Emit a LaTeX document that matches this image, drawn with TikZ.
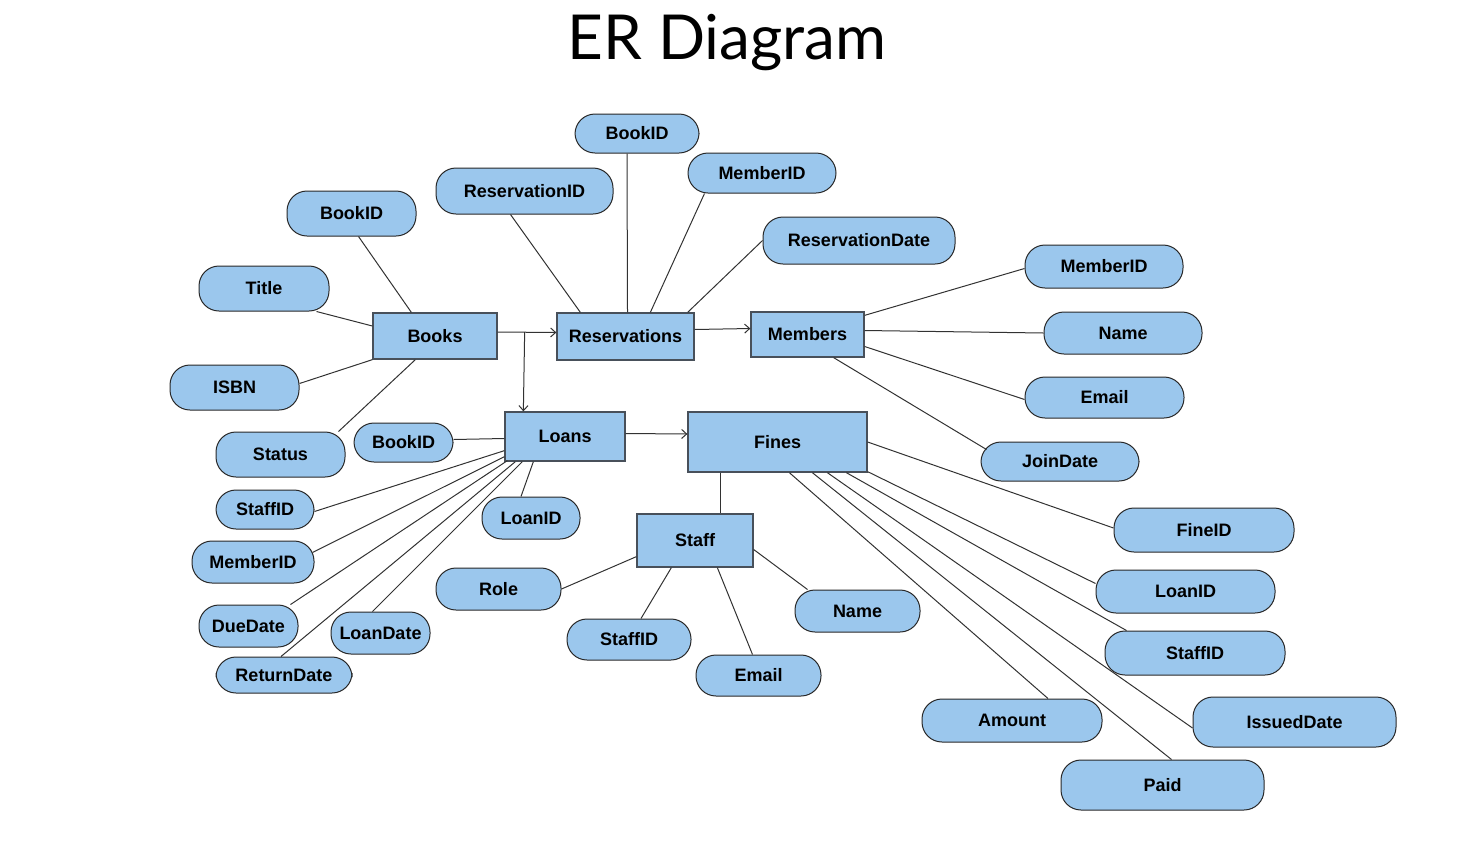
\documentclass[tikz,border=0pt]{standalone}
\usepackage{fontspec}
\setmainfont{Liberation Sans}
\newfontfamily\titlefont{Lato}
\usetikzlibrary{arrows.meta, positioning}

\definecolor{boxfill}{RGB}{155,199,237}
\definecolor{boxline}{RGB}{72,80,90}
\definecolor{pillline}{RGB}{40,40,40}
\definecolor{linkcol}{RGB}{50,50,50}

\tikzset{
  entity/.style={draw=boxline, fill=boxfill, line width=1.3pt, inner sep=0pt,
    font=\fontsize{18}{20}\selectfont\bfseries},
  attrib/.style={draw=pillline, fill=boxfill, line width=1pt, inner sep=0pt,
    rounded corners=20pt, font=\fontsize{18}{20}\selectfont\bfseries},
  link/.style={draw=linkcol, line width=1pt},
  >={Straight Barb[length=5pt,width=9pt]}
}

\begin{document}
\begin{tikzpicture}[x=1pt, y=-1pt]
\useasboundingbox (0,0) rectangle (1479,844);

\node[font=\titlefont\fontsize{62}{68}\selectfont] (title) at (727,43) {ER Diagram};

% entities
\node[entity, minimum width=124pt, minimum height=46pt] (books) at (435,336) {Books};
\node[entity, minimum width=137pt, minimum height=47pt] (resv) at (625.5,336.5) {Reservations};
\node[entity, minimum width=113pt, minimum height=45pt] (members) at (807.5,334.5) {Members};
\node[entity, minimum width=120pt, minimum height=49pt] (loans) at (565,436.5) {Loans};
\node[entity, minimum width=179pt, minimum height=60pt] (fines) at (777.5,442) {Fines};
\node[entity, minimum width=116pt, minimum height=53pt] (staff) at (695,540.5) {Staff};

% books attributes
\node[attrib, minimum width=129pt, minimum height=45pt] (bkbookid) at (351.5,213.5) {BookID};
\node[attrib, minimum width=130pt, minimum height=45pt] (bktitle) at (264,288.5) {Title};
\node[attrib, minimum width=129pt, minimum height=45pt] (bkisbn) at (234.5,387.5) {ISBN};
\node[attrib, minimum width=129pt, minimum height=45pt] (bkstatus) at (280.5,454.5) {Status};

% reservations attributes
\node[attrib, minimum width=177pt, minimum height=46pt] (rsresid) at (524.5,191) {ReservationID};
\node[attrib, minimum width=124pt, minimum height=39pt] (rsbookid) at (637,133.5) {BookID};
\node[attrib, minimum width=148pt, minimum height=40pt] (rsmemid) at (762,173) {MemberID};
\node[attrib, minimum width=192pt, minimum height=47pt] (rsdate) at (859,240.5) {ReservationDate};

% members attributes
\node[attrib, minimum width=158pt, minimum height=43pt] (mbmemid) at (1104,266.5) {MemberID};
\node[attrib, minimum width=158pt, minimum height=42pt] (mbname) at (1123,333) {Name};
\node[attrib, minimum width=159pt, minimum height=41pt] (mbemail) at (1104.5,397.5) {Email};
\node[attrib, minimum width=158pt, minimum height=39pt] (mbjoin) at (1060,461.5) {JoinDate};

% loans attributes
\node[attrib, minimum width=99pt, minimum height=39pt] (lnbookid) at (403.5,442.5) {BookID};
\node[attrib, minimum width=98pt, minimum height=39pt] (lnstaffid) at (265,509.5) {StaffID};
\node[attrib, minimum width=122pt, minimum height=42pt] (lnmemid) at (253,562) {MemberID};
\node[attrib, minimum width=99pt, minimum height=42pt] (lndue) at (248.5,626) {DueDate};
\node[attrib, minimum width=99pt, minimum height=42pt] (lnloandate) at (380.5,633) {LoanDate};
\node[attrib, minimum width=136pt, minimum height=36pt] (lnreturn) at (284,675) {ReturnDate};
\node[attrib, minimum width=98pt, minimum height=42pt] (lnloanid) at (531,518) {LoanID};

% staff attributes
\node[attrib, minimum width=125pt, minimum height=42pt] (sfrole) at (498.5,589) {Role};
\node[attrib, minimum width=124pt, minimum height=41pt] (sfstaffid) at (629,639.5) {StaffID};
\node[attrib, minimum width=125pt, minimum height=41pt] (sfemail) at (758.5,675.5) {Email};
\node[attrib, minimum width=125pt, minimum height=42pt] (sfname) at (857.5,611) {Name};

% fines attributes
\node[attrib, minimum width=180pt, minimum height=44pt] (fnfineid) at (1204,530) {FineID};
\node[attrib, minimum width=179pt, minimum height=43pt] (fnloanid) at (1185.5,591.5) {LoanID};
\node[attrib, minimum width=180pt, minimum height=44pt] (fnstaffid) at (1195,653) {StaffID};
\node[attrib, minimum width=203pt, minimum height=50pt] (fnissued) at (1294.5,722) {IssuedDate};
\node[attrib, minimum width=180pt, minimum height=43pt] (fnamount) at (1012,720.5) {Amount};
\node[attrib, minimum width=203pt, minimum height=50pt] (fnpaid) at (1162.5,785) {Paid};

% relationships
\draw[link, ->] ([yshift=4pt]books.east) -- ([yshift=4pt]resv.west);
\draw[link, ->] ([xshift=27pt,yshift=4pt]books.east) -- ([xshift=19pt]loans.north west);
\draw[link, ->] ([yshift=7pt]resv.east) -- ([yshift=6pt]members.west);
\draw[link, ->] ([yshift=3pt]loans.east) -- ([yshift=8pt]fines.west);
\draw[link] ([xshift=33pt]fines.south west) -- ([xshift=84pt]staff.north west);

% books links
\draw[link] ([xshift=7pt]bkbookid.south) -- ([xshift=39pt]books.north west);
\draw[link] ([xshift=-13pt]bktitle.south east) -- ([yshift=10pt]books.west);
\draw[link] ([yshift=4pt]bkisbn.east) -- (books.south west);
\draw[link] ([xshift=-7pt]bkstatus.north east) -- ([xshift=43pt]books.south west);

% reservations links
\draw[link] ([xshift=-14pt]rsresid.south) -- ([xshift=24pt]resv.north west);
\draw[link] ([xshift=-10pt]rsbookid.south) -- ([xshift=2pt]resv.north);
\draw[link] ([xshift=17pt]rsmemid.south west) -- ([xshift=94pt]resv.north west);
\draw[link] (rsdate.west) -- ([xshift=-7pt]resv.north east);

% members links
\draw[link] ([yshift=-4pt]members.north east) -- ([yshift=-2pt]mbmemid.west);
\draw[link] ([yshift=4pt]members.east) -- (mbname.west);
\draw[link] ([yshift=-12pt]members.east) -- ([yshift=-2pt]mbemail.west);
\draw[link] ([xshift=-31pt]members.south east) -- ([xshift=6pt,yshift=-8pt]mbjoin.north west);

% loans links
\draw[link] ([yshift=-2pt]loans.west) -- ([yshift=3pt]lnbookid.east);
\draw[link] ([yshift=11pt]loans.south west) -- ([yshift=-2pt]lnstaffid.east);
\draw[link] ([yshift=5pt]loans.south west) -- ([xshift=-2pt,yshift=-12pt]lnmemid.north east);
\draw[link] ([xshift=3pt,yshift=1pt]loans.south west) -- ([xshift=-8pt]lndue.north east);
\draw[link] ([xshift=11pt]loans.south west) -- ([xshift=-3pt]lnreturn.north);
\draw[link] ([xshift=18pt]loans.south west) -- ([xshift=-8pt]lnloandate.north);
\draw[link] ([xshift=29pt]loans.south west) -- ([xshift=-10pt]lnloanid.north);

% staff links
\draw[link] ([yshift=11pt]staff.south west) -- (sfrole.east);
\draw[link] ([xshift=35pt]staff.south west) -- ([xshift=12pt]sfstaffid.north);
\draw[link] ([xshift=81pt]staff.south west) -- ([xshift=-6pt]sfemail.north);
\draw[link] ([yshift=-9pt]staff.east) -- ([xshift=13pt]sfname.north west);

% fines links
\draw[link] (fines.east) -- ([yshift=2pt]fnfineid.west);
\draw[link] ([yshift=1pt]fines.south east) -- ([yshift=8pt]fnloanid.west);
\draw[link] ([xshift=159pt]fines.south west) -- ([xshift=22pt]fnstaffid.north west);
\draw[link] ([xshift=140pt]fines.south west) -- ([yshift=-6pt]fnissued.west);
\draw[link] ([xshift=125pt]fines.south west) -- ([xshift=9pt]fnpaid.north);
\draw[link] ([xshift=102pt]fines.south west) -- ([xshift=36pt]fnamount.north);
\end{tikzpicture}
\end{document}
